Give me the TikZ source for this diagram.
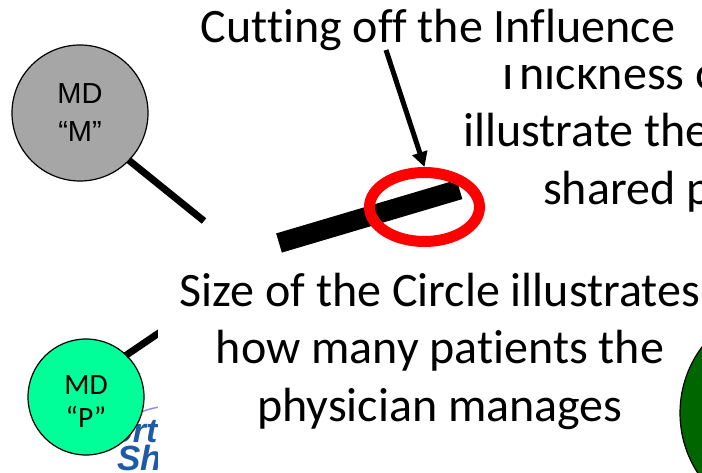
\documentclass[tikz,border=0pt]{standalone}
\usetikzlibrary{shapes.geometric,arrows.meta}
\usepackage{fontspec}
\setmainfont[Ligatures=NoCommon]{Carlito}
\newfontfamily\arialf{Liberation Sans}
\definecolor{mdgray}{RGB}{166,166,166}
\definecolor{mdgreen}{RGB}{0,255,153}
\definecolor{dkgreen}{RGB}{0,102,0}
\definecolor{logoblue}{RGB}{30,90,165}
\tikzset{
  mdcircle/.style={circle,draw=black,line width=1.2pt,inner sep=0pt,align=center},
  bigtext/.style={inner sep=0pt,font=\fontsize{48}{57.5}\selectfont},
  tie/.style={line width=7pt,black},
}
\begin{document}
\begin{tikzpicture}[x=1pt,y=-1pt]
\useasboundingbox (0,0) rectangle (702,473);
\clip (0,0) rectangle (702,473);
\coordinate (mend) at (204,221);
\coordinate (pend) at (200,305);
\coordinate (ta) at (279,243);
\coordinate (tb) at (459.5,189.5);
% logo and the connector of MD P, cut by the white text box
\draw[gray!60!blue!60,line width=1.5pt] (120,425) .. controls (130,415) and (145,409) .. (165,406);
\node[inner sep=0pt,anchor=base west,text=logoblue,font=\arialf\bfseries\itshape\fontsize{34}{34}\selectfont] (logoa) at (112,442) {ort};
\node[inner sep=0pt,anchor=base west,text=logoblue,font=\arialf\bfseries\itshape\fontsize{35}{35}\selectfont] (logob) at (117,470) {Sh};
\node[mdcircle,fill=mdgreen,minimum size=116pt] (p) at (86,397) {};
\draw[tie,shorten <=-1pt] (p.46) -- (pend);
\fill[white] (158,262) rectangle (660,473);
\node[inner sep=0pt,align=center,font=\fontsize{29.5}{33}\selectfont] (ptext) at (86,402) {MD\\“P”};
\node[mdcircle,fill=mdgray,minimum size=136pt,font=\arialf\fontsize{29}{38}\selectfont] (m) at (80,113) {MD\\“M”};
\draw[tie,shorten <=-1pt] (m.-44) -- (mend);
\node[circle,draw=black,fill=dkgreen,line width=1.2pt,minimum size=220pt,inner sep=0pt] (big) at (790,413) {};
\node[bigtext,align=center] (size) at (440,351) {Size of the Circle illustrates\\how many patients the\\physician manages};
\draw[line width=20pt,black] (ta) -- (tb);
\node[bigtext,anchor=base west] (thicka) at (496,90) {Thickness o};
\node[bigtext,anchor=base west] (thickb) at (463,147) {illustrate the};
\node[bigtext,anchor=base west] (thickc) at (543,205) {shared p};
\fill[white] (380,0) rectangle (702,65);
\node[bigtext,anchor=base] (cut) at (438,43) {Cutting off the Influence};
\coordinate (arrowstart) at (386,50);
\node[ellipse,draw=red,line width=11pt,minimum width=110pt,minimum height=69pt,inner sep=0pt] (ring) at (424.5,207) {};
\draw[line width=5pt,-{Triangle[length=15pt,width=15pt]}] (arrowstart) -- (ring.north);
\end{tikzpicture}
\end{document}
